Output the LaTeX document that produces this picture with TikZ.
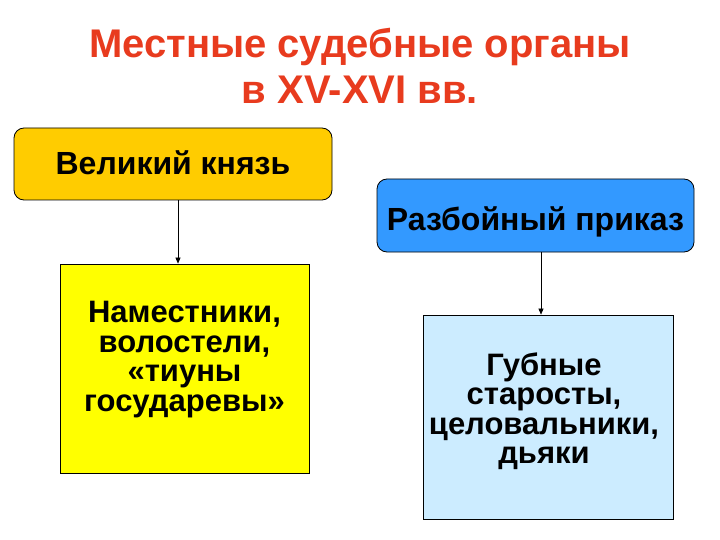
\documentclass[tikz,border=0pt]{standalone}
\usepackage{fontspec}
\setmainfont{Liberation Sans}
\usetikzlibrary{arrows.meta,calc}
\definecolor{titlered}{RGB}{232,59,30}
\definecolor{orangebox}{RGB}{255,204,0}
\definecolor{bluebox}{RGB}{51,153,255}
\definecolor{yellowbox}{RGB}{255,255,0}
\definecolor{lightbluebox}{RGB}{204,236,255}
\tikzset{
  titletext/.style={text=titlered, font=\bfseries\fontsize{40}{46}\selectfont, anchor=base, inner sep=0pt},
  roundbox/.style={draw=black, line width=0.8pt, rounded corners=10pt, inner sep=0pt},
  flatbox/.style={draw=black, line width=0.8pt, inner sep=0pt},
  boxtext/.style={inner sep=0pt, align=center, font=\bfseries\fontsize{32}{28.5}\selectfont},
  multitext/.style={inner sep=0pt, align=center, font=\bfseries\fontsize{31}{29.5}\selectfont},
  link/.style={-{Triangle[length=6pt,width=5pt]}, line width=0.6pt}
}
\begin{document}
\begin{tikzpicture}[x=1pt,y=-1pt]
\useasboundingbox[fill=white] (0,0) rectangle (720,540);
\node[titletext] (t1) at (360,58) {Местные судебные органы};
\node[titletext] (t2) at (360,104) {в XV-XVI вв.};
\node[roundbox, fill=orangebox, minimum width=318pt, minimum height=72pt] (b1) at (173,164) {};
\node[roundbox, fill=bluebox, minimum width=317pt, minimum height=73pt] (b2) at (535.5,215.5) {};
\node[flatbox, fill=yellowbox, minimum width=249pt, minimum height=209pt] (b3) at (184.5,368.5) {};
\node[flatbox, fill=lightbluebox, minimum width=250pt, minimum height=204pt] (b4) at (548,417) {};
\node[boxtext, anchor=base] (b1t) at (173,175) {Великий князь};
\node[boxtext, anchor=base] (b2t) at (535.5,230) {Разбойный приказ};
\node[multitext] (b3t) at ($(b3.center)+(0,-9)$) {Наместники,\\волостели,\\«тиуны\\государевы»};
\node[multitext] (b4t) at ($(b4.center)+(-4,-6)$) {Губные\\старосты,\\целовальники,\\дьяки};
\draw[link] (b1.south -| 178,0) -- (b3.north -| 178,0);
\draw[link] (b2.south -| 541,0) -- (b4.north -| 541,0);
\end{tikzpicture}
\end{document}
